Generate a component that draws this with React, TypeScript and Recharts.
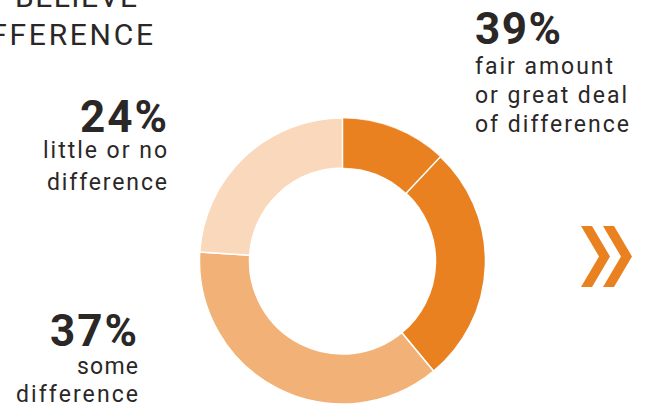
import React from "react";
import { PieChart, Pie, Cell } from "recharts";

// share of respondents (%), clockwise from 12 o'clock
const segments = ["great deal", "fair amount", "some", "little or no"];
const shares = [12, 27, 37, 24];
const segmentColors = ["#EA8120", "#EA8120", "#F2B177", "#F9D8BC"];

const headingLines = ["BELIEVE", "DIFFERENCE"];
const bigPcts = ["39%", "24%", "37%"];
const fairLines = ["fair amount", "or great deal", "of difference"];
const littleLines = ["little or no", "difference"];
const someLines = ["some", "difference"];

const ink = "#2B2727";
const font = "Roboto, 'Noto Sans', sans-serif";

const chartData = segments.map((name, i) => ({ name, value: shares[i] }));

function Labels() {
  const body = { fontFamily: font, fontSize: 23, fill: ink } as const;
  const big = { fontFamily: font, fontSize: 44, fontWeight: 700, fill: ink } as const;
  return (
    <svg width={649} height={407} style={{ position: "absolute", left: 0, top: 0 }}>
      <text x={15} y={7} textLength={122} lengthAdjust="spacing" style={{ fontFamily: font, fontSize: 30, fill: ink }}>
        {headingLines[0]}
      </text>
      <text x={-43} y={45} textLength={196} lengthAdjust="spacing" style={{ fontFamily: font, fontSize: 30, fill: ink }}>
        {headingLines[1]}
      </text>

      <text x={475} y={43.5} textLength={86} lengthAdjust="spacing" style={big}>{bigPcts[0]}</text>
      <text x={475} y={74} textLength={138} lengthAdjust="spacing" style={body}>{fairLines[0]}</text>
      <text x={475} y={103} textLength={152} lengthAdjust="spacing" style={body}>{fairLines[1]}</text>
      <text x={475} y={132} textLength={154} lengthAdjust="spacing" style={body}>{fairLines[2]}</text>

      <text x={80} y={131.5} textLength={87} lengthAdjust="spacing" style={big}>{bigPcts[1]}</text>
      <text x={43} y={158} textLength={124} lengthAdjust="spacing" style={body}>{littleLines[0]}</text>
      <text x={47} y={190} textLength={120} lengthAdjust="spacing" style={body}>{littleLines[1]}</text>

      <text x={50} y={346} textLength={87} lengthAdjust="spacing" style={big}>{bigPcts[2]}</text>
      <text x={77} y={374} textLength={61} lengthAdjust="spacing" style={body}>{someLines[0]}</text>
      <text x={16} y={402} textLength={122} lengthAdjust="spacing" style={body}>{someLines[1]}</text>

      <g fill="#EA8120">
        <polygon points="581,226 592,226 610,256.5 592,287 581,287 599,256.5" />
        <polygon points="603,226 614,226 632,256.5 614,287 603,287 621,256.5" />
      </g>
    </svg>
  );
}

export default function App() {
  return (
    <div style={{ position: "absolute", left: 0, top: 0, width: 649, height: 407, background: "#fff", overflow: "hidden" }}>
      <PieChart width={649} height={407} margin={{ top: 0, right: 0, bottom: 0, left: 0 }}>
        <Pie
          data={chartData}
          dataKey="value"
          nameKey="name"
          cx={342.5}
          cy={261}
          innerRadius={93}
          outerRadius={143}
          startAngle={90}
          endAngle={-270}
          stroke="#fff"
          strokeWidth={1.5}
          isAnimationActive={false}
        >
          {chartData.map((d, i) => (
            <Cell key={d.name} fill={segmentColors[i]} strokeWidth={i === 0 ? 0.6 : 1.5} />
          ))}
        </Pie>
      </PieChart>
      <Labels />
    </div>
  );
}
